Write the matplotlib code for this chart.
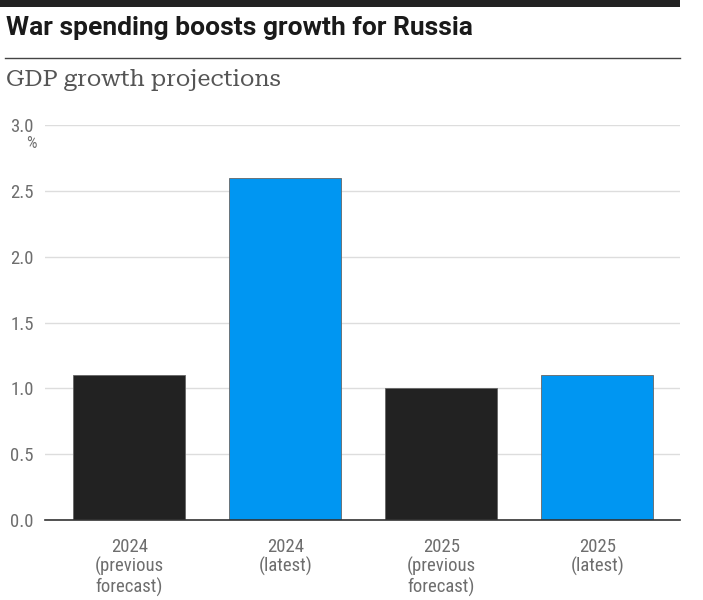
import matplotlib
matplotlib.use("Agg")
import matplotlib.pyplot as plt
from matplotlib.lines import Line2D
from matplotlib.patches import Rectangle

categories = ["2024\n(previous\nforecast)", "2024\n(latest)",
              "2025\n(previous\nforecast)", "2025\n(latest)"]
values = [1.1, 2.6, 1.0, 1.1]
bar_colors = ["#222222", "#0096f2", "#222222", "#0096f2"]
yticks = [0.0, 0.5, 1.0, 1.5, 2.0, 2.5, 3.0]

narrow = ["Roboto Condensed", "DejaVu Sans"]
grey = "#6e6e6e"

fig = plt.figure(figsize=(7.03, 6.00), dpi=100)

# header: black band, title, rule, subtitle
fig.add_artist(Rectangle((0, 1 - 7 / 600), 680 / 703, 7 / 600,
                         transform=fig.transFigure, color="#222222", lw=0))
fig.add_artist(Line2D([5 / 703, 680 / 703], [1 - 58 / 600] * 2,
                      transform=fig.transFigure, color="#444444", lw=1))
fig.text(6 / 703, 1 - 28 / 600, "War spending boosts growth for Russia",
         fontsize=19, fontweight="bold", family=["Roboto", "DejaVu Sans"],
         color="#1a1a1a", va="center", ha="left")
fig.text(6 / 703, 1 - 80 / 600, "GDP growth projections",
         fontsize=17, family=["Roboto Serif", "DejaVu Serif"], fontweight=300,
         color="#555555", va="center", ha="left")

ax = fig.add_axes([45 / 703, 1 - 520 / 600, (680 - 45) / 703, (520 - 125) / 600])
x = range(len(values))
ax.bar(x, values, width=0.72, color=bar_colors, edgecolor="#666666",
       linewidth=0.6, zorder=3)
ax.set_xlim(-0.54, 3.53)
ax.set_ylim(0, 3.0)
ax.set_yticks(yticks)
ax.set_yticklabels([f"{v:.1f}" for v in yticks], family=narrow,
                   fontsize=13.5, color=grey)
ax.set_xticks(list(x))
ax.set_xticklabels(categories, family=narrow, fontsize=13.5,
                   color=grey, va="top", linespacing=1.08)
ax.tick_params(axis="y", length=0, pad=8)
ax.tick_params(axis="x", length=0, pad=13)
ax.grid(axis="y", color="#dddddd", lw=1, zorder=0)
for side in ["top", "right", "left"]:
    ax.spines[side].set_visible(False)
ax.spines["bottom"].set_color("#333333")
ax.spines["bottom"].set_linewidth(1.2)
ax.spines["bottom"].set_zorder(4)
ax.set_facecolor("none")

fig.text(37 / 703, 1 - 143 / 600, "%", family=narrow,
         fontsize=12, color=grey, ha="right", va="center")

fig.savefig("out.png", dpi=100)
